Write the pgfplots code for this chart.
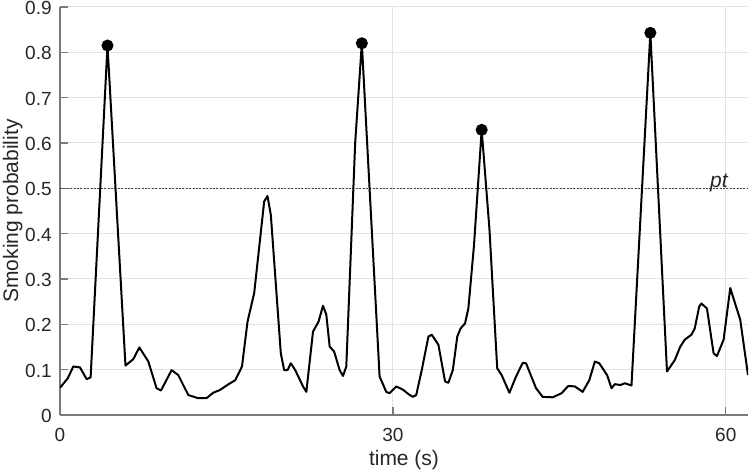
\documentclass[border=0pt]{standalone}
\usepackage{pgfplots}
\pgfplotsset{compat=1.18}
\usepackage{fontspec}
\setmainfont{Liberation Sans}
\definecolor{axgray}{HTML}{7A7A7A}
\definecolor{gridgray}{HTML}{E3E3E3}
\definecolor{txt}{HTML}{262626}
\begin{document}
\begin{tikzpicture}
\begin{axis}[
  scale only axis, width=344pt, height=204pt,
  xmin=0, xmax=62, ymin=0, ymax=0.9,
  axis lines*=left,
  axis line style={axgray, line width=0.6pt},
  xtick={0,30,60}, ytick={0,0.1,0.2,0.3,0.4,0.5,0.6,0.7,0.8,0.9},
  xtick pos=left, ytick pos=left,
  tick align=inside, major tick length=4pt,
  tick style={axgray, line width=0.6pt},
  grid=major, major grid style={gridgray, line width=0.5pt},
  /pgf/number format/assume math mode=true,
  ticklabel style={font=\fontsize{9.5}{11}\selectfont, text=txt, inner sep=0pt},
  yticklabel style={anchor=east, xshift=-4pt, yshift=-0.5pt},
  xticklabel style={anchor=base, yshift=-13.5pt},
  xlabel={time (s)}, ylabel={Smoking probability},
  label style={font=\fontsize{10.5}{12}\selectfont, text=txt, inner sep=0pt},
  xlabel style={at={(axis description cs:0.5,0)}, anchor=base, yshift=-25.5pt},
  ylabel style={at={(axis description cs:-0.0538,0.5)}, anchor=south},
  clip=true,
]
\addplot[gridgray, line width=0.5pt] coordinates {(62,0) (62,0.9)};
\addplot[black!72, line width=0.6pt, dash pattern=on 1pt off 0.7pt] coordinates {(0,0.5) (62,0.5)};
\addplot[black, line width=1pt, line join=round] coordinates {
(0.0,0.060) (0.7,0.081) (1.2,0.107) (1.8,0.105) (2.4,0.079) (2.76,0.083)
(4.28,0.815)
(5.9,0.109) (6.6,0.123) (7.15,0.149) (7.96,0.118) (8.7,0.059) (9.1,0.054)
(10.06,0.099) (10.66,0.088) (11.56,0.044) (12.46,0.037) (13.2,0.037) (13.8,0.049)
(14.4,0.055) (15.2,0.068) (15.8,0.077) (16.4,0.107) (16.9,0.206) (17.5,0.269)
(18.4,0.471) (18.7,0.483) (19.0,0.441) (19.9,0.136) (20.2,0.099) (20.5,0.099)
(20.8,0.114) (21.2,0.099) (21.9,0.063) (22.2,0.051) (22.8,0.184) (23.3,0.206)
(23.7,0.241) (24.0,0.221) (24.3,0.151) (24.7,0.140) (25.2,0.099) (25.5,0.086)
(25.8,0.107) (26.6,0.60) (27.2,0.820) (28.8,0.085)
(29.4,0.051) (29.7,0.048) (30.3,0.063) (30.9,0.056) (31.4,0.046)
(31.8,0.040) (32.1,0.044) (32.6,0.099) (33.2,0.173) (33.5,0.177) (34.1,0.155)
(34.7,0.074) (35.0,0.071) (35.4,0.099) (35.8,0.173) (36.1,0.191) (36.5,0.202)
(36.8,0.235) (37.3,0.372) (38.0,0.629) (38.7,0.41) (39.4,0.103) (39.8,0.088)
(40.5,0.049) (41.1,0.085) (41.7,0.115) (42.0,0.114) (42.9,0.059) (43.5,0.040)
(44.4,0.039) (45.2,0.048) (45.8,0.064) (46.4,0.063) (47.1,0.051) (47.7,0.077)
(48.2,0.118) (48.6,0.114) (49.3,0.088) (49.7,0.059) (50.0,0.068) (50.5,0.066)
(50.9,0.070) (51.5,0.065) (53.2,0.843)
(54.7,0.096) (55.4,0.121) (55.9,0.151) (56.3,0.166) (56.9,0.177)
(57.2,0.191) (57.6,0.239) (57.8,0.246) (58.3,0.235) (58.9,0.136) (59.2,0.130)
(59.8,0.166) (60.4,0.280) (61.3,0.210) (62.0,0.088)
};
\addplot[only marks, mark=*, mark size=2.8pt, black] coordinates {
(4.28,0.815) (27.2,0.820) (38.0,0.629) (53.2,0.843)
};
\node[anchor=base west, inner sep=0pt, text=txt, font=\fontsize{10.5}{12}\selectfont\itshape, yshift=0.5pt] at (axis cs:58.55,0.5) {pt};
\coordinate (sw) at (rel axis cs:0,0);
\coordinate (ne) at (rel axis cs:1,1);
\end{axis}
\pgfresetboundingbox
\path[use as bounding box] ([xshift=-30pt,yshift=-30pt]sw) rectangle ([xshift=1pt,yshift=3.5pt]ne);
\end{tikzpicture}
\end{document}
